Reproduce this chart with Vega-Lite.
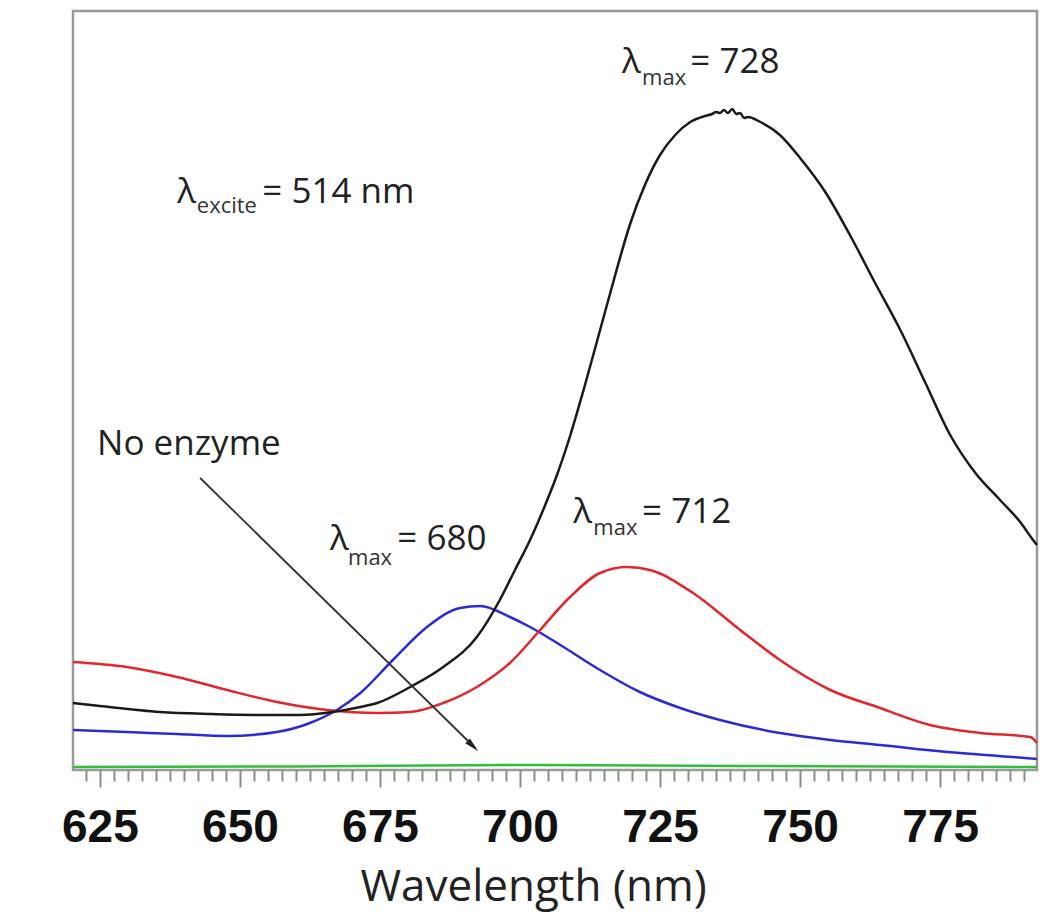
{
  "$schema": "https://vega.github.io/schema/vega-lite/v6.json",
  "width": 964,
  "height": 759,
  "autosize": {"type": "none"},
  "padding": {"left": 73, "top": 11, "right": 13, "bottom": 146},
  "background": "white",
  "config": {
    "font": "Open Sans",
    "view": {"stroke": "#9a9a9a", "strokeWidth": 2.5}
  },
  "resolve": {"axis": {"x": "independent"}},
  "layer": [
    {
      "data": {
        "values": [
          {"series": "green", "nm": 620.2, "em": 3},
          {"series": "green", "nm": 660, "em": 3.5},
          {"series": "green", "nm": 700, "em": 5},
          {"series": "green", "nm": 740, "em": 4},
          {"series": "green", "nm": 792.3, "em": 3},
          {"series": "blue", "nm": 620.2, "em": 40},
          {"series": "blue", "nm": 629.8, "em": 38},
          {"series": "blue", "nm": 638.8, "em": 36},
          {"series": "blue", "nm": 647.7, "em": 34},
          {"series": "blue", "nm": 656.6, "em": 38},
          {"series": "blue", "nm": 662.5, "em": 47},
          {"series": "blue", "nm": 667.3, "em": 60},
          {"series": "blue", "nm": 671.5, "em": 77},
          {"series": "blue", "nm": 677.3, "em": 110},
          {"series": "blue", "nm": 683.4, "em": 143},
          {"series": "blue", "nm": 689.3, "em": 162},
          {"series": "blue", "nm": 692.9, "em": 164},
          {"series": "blue", "nm": 698.2, "em": 153},
          {"series": "blue", "nm": 701.8, "em": 143},
          {"series": "blue", "nm": 707.2, "em": 125},
          {"series": "blue", "nm": 714.3, "em": 100},
          {"series": "blue", "nm": 721.4, "em": 78},
          {"series": "blue", "nm": 728.6, "em": 62},
          {"series": "blue", "nm": 735.7, "em": 50},
          {"series": "blue", "nm": 746.4, "em": 37},
          {"series": "blue", "nm": 755.4, "em": 30},
          {"series": "blue", "nm": 764.3, "em": 25},
          {"series": "blue", "nm": 776.3, "em": 18},
          {"series": "blue", "nm": 788.0, "em": 13},
          {"series": "blue", "nm": 792.3, "em": 11},
          {"series": "red", "nm": 620.2, "em": 108},
          {"series": "red", "nm": 629.8, "em": 103},
          {"series": "red", "nm": 638.8, "em": 93},
          {"series": "red", "nm": 647.7, "em": 80},
          {"series": "red", "nm": 656.6, "em": 68},
          {"series": "red", "nm": 665.6, "em": 60},
          {"series": "red", "nm": 674.5, "em": 57},
          {"series": "red", "nm": 680.4, "em": 58},
          {"series": "red", "nm": 686.3, "em": 67},
          {"series": "red", "nm": 692.3, "em": 83},
          {"series": "red", "nm": 698.2, "em": 107},
          {"series": "red", "nm": 703.6, "em": 140},
          {"series": "red", "nm": 708.4, "em": 170},
          {"series": "red", "nm": 714.3, "em": 197},
          {"series": "red", "nm": 719.1, "em": 203},
          {"series": "red", "nm": 723.2, "em": 200},
          {"series": "red", "nm": 730.9, "em": 177},
          {"series": "red", "nm": 739.3, "em": 140},
          {"series": "red", "nm": 746.4, "em": 110},
          {"series": "red", "nm": 755.4, "em": 80},
          {"series": "red", "nm": 764.3, "em": 62},
          {"series": "red", "nm": 773.2, "em": 45},
          {"series": "red", "nm": 782.2, "em": 37},
          {"series": "red", "nm": 791.1, "em": 33},
          {"series": "red", "nm": 792.3, "em": 27},
          {"series": "black", "nm": 620.2, "em": 67},
          {"series": "black", "nm": 625.0, "em": 64},
          {"series": "black", "nm": 635.7, "em": 58},
          {"series": "black", "nm": 644.7, "em": 56},
          {"series": "black", "nm": 653.6, "em": 55},
          {"series": "black", "nm": 660.7, "em": 55},
          {"series": "black", "nm": 666.6, "em": 58},
          {"series": "black", "nm": 671.5, "em": 63},
          {"series": "black", "nm": 674.5, "em": 67},
          {"series": "black", "nm": 680.4, "em": 83},
          {"series": "black", "nm": 686.3, "em": 103},
          {"series": "black", "nm": 692.3, "em": 133},
          {"series": "black", "nm": 696.4, "em": 170},
          {"series": "black", "nm": 699.1, "em": 200},
          {"series": "black", "nm": 701.8, "em": 230},
          {"series": "black", "nm": 704.5, "em": 265},
          {"series": "black", "nm": 706.6, "em": 295},
          {"series": "black", "nm": 709.0, "em": 335},
          {"series": "black", "nm": 711.6, "em": 385},
          {"series": "black", "nm": 714.3, "em": 440},
          {"series": "black", "nm": 717.0, "em": 495},
          {"series": "black", "nm": 719.6, "em": 545},
          {"series": "black", "nm": 722.3, "em": 585},
          {"series": "black", "nm": 725.0, "em": 615},
          {"series": "black", "nm": 727.7, "em": 635},
          {"series": "black", "nm": 730.4, "em": 648},
          {"series": "black", "nm": 733.0, "em": 654},
          {"series": "black", "nm": 734.3, "em": 656},
          {"series": "black", "nm": 735.0, "em": 658},
          {"series": "black", "nm": 735.7, "em": 657},
          {"series": "black", "nm": 736.4, "em": 660},
          {"series": "black", "nm": 737.1, "em": 657},
          {"series": "black", "nm": 737.9, "em": 661},
          {"series": "black", "nm": 738.6, "em": 656},
          {"series": "black", "nm": 739.3, "em": 657},
          {"series": "black", "nm": 740.0, "em": 652},
          {"series": "black", "nm": 740.7, "em": 653},
          {"series": "black", "nm": 742.9, "em": 648},
          {"series": "black", "nm": 746.4, "em": 635},
          {"series": "black", "nm": 750.0, "em": 612},
          {"series": "black", "nm": 754.5, "em": 578},
          {"series": "black", "nm": 758.9, "em": 535},
          {"series": "black", "nm": 763.4, "em": 487},
          {"series": "black", "nm": 767.9, "em": 440},
          {"series": "black", "nm": 772.3, "em": 388},
          {"series": "black", "nm": 776.8, "em": 335},
          {"series": "black", "nm": 781.3, "em": 297},
          {"series": "black", "nm": 785.7, "em": 270},
          {"series": "black", "nm": 789.3, "em": 248},
          {"series": "black", "nm": 791.6, "em": 230},
          {"series": "black", "nm": 792.3, "em": 225}
        ]
      },
      "mark": {"type": "line", "strokeWidth": 2.5, "interpolate": "monotone"},
      "encoding": {
        "x": {
          "field": "nm",
          "type": "quantitative",
          "scale": {"domain": [620.2, 792.3], "nice": false, "zero": false},
          "axis": {
            "orient": "bottom",
            "values": [625, 650, 675, 700, 725, 750, 775],
            "tickSize": 17,
            "tickColor": "#8c8c8c",
            "tickWidth": 2,
            "labelFont": "Liberation Sans",
            "labelFontWeight": "bold",
            "labelFontSize": 46,
            "labelColor": "#111111",
            "labelPadding": 18,
            "labelOverlap": false,
            "labelBound": false,
            "labelFlush": false,
            "domain": false,
            "grid": false,
            "title": "Wavelength (nm)",
            "titleFont": "Open Sans",
            "titleFontSize": 44,
            "titleFontWeight": "normal",
            "titleColor": "#222222",
            "titleX": 460,
            "titleY": 130,
            "titleBaseline": "alphabetic",
            "titleAlign": "center"
          }
        },
        "y": {
          "field": "em",
          "type": "quantitative",
          "scale": {"domain": [0, 759], "nice": false, "zero": false},
          "axis": {
            "title": "Emission",
            "labels": false,
            "ticks": false,
            "domain": false,
            "grid": false,
            "titleFont": "Open Sans",
            "titleFontSize": 40,
            "titleFontWeight": "normal",
            "titleColor": "#222222",
            "titleX": -38,
            "titleY": 370,
            "titleAngle": 270,
            "titleBaseline": "alphabetic",
            "titleAlign": "center"
          }
        },
        "color": {
          "field": "series",
          "type": "nominal",
          "scale": {"domain": ["green", "blue", "red", "black"], "range": ["#2fbf3a", "#2b2bd6", "#e3262b", "#1a1a1a"]},
          "legend": null
        }
      }
    },
    {
      "data": {"values": [{"nm": 642.9, "em": 292, "nm2": 692.0, "em2": 22}]},
      "mark": {"type": "rule", "color": "#333333", "strokeWidth": 1.8},
      "encoding": {
        "x": {
          "field": "nm",
          "type": "quantitative",
          "axis": {
            "orient": "bottom",
            "values": [622.5, 627.5, 630, 632.5, 635, 637.5, 640, 642.5, 645, 647.5, 652.5, 655, 657.5, 660, 662.5, 665, 667.5, 670, 672.5, 677.5, 680, 682.5, 685, 687.5, 690, 692.5, 695, 697.5, 702.5, 705, 707.5, 710, 712.5, 715, 717.5, 720, 722.5, 727.5, 730, 732.5, 735, 737.5, 740, 742.5, 745, 747.5, 752.5, 755, 757.5, 760, 762.5, 765, 767.5, 770, 772.5, 777.5, 780, 782.5, 785, 787.5, 790],
            "tickSize": 11,
            "tickColor": "#8c8c8c",
            "tickWidth": 2,
            "labels": false,
            "domain": false,
            "grid": false,
            "title": null
          }
        },
        "y": {"field": "em", "type": "quantitative", "axis": null},
        "x2": {"field": "nm2"},
        "y2": {"field": "em2"}
      }
    },
    {
      "data": {"values": [{"nm": 691.6, "em": 24}]},
      "mark": {"type": "point", "shape": "M0,-1L0.45,1L-0.45,1Z", "filled": true, "color": "#222222", "opacity": 1, "size": 220, "angle": 134},
      "encoding": {
        "x": {"field": "nm", "type": "quantitative", "axis": null},
        "y": {"field": "em", "type": "quantitative", "axis": null}
      }
    },
    {
      "data": {
        "values": [
          {"nm": 718.2, "em": 697, "t": "λ"},
          {"nm": 730.4, "em": 697, "t": "= 728"},
          {"nm": 638.8, "em": 567, "t": "λ"},
          {"nm": 654.0, "em": 567, "t": "= 514 nm"},
          {"nm": 666.1, "em": 220, "t": "λ"},
          {"nm": 678.1, "em": 220, "t": "= 680"},
          {"nm": 709.5, "em": 247, "t": "λ"},
          {"nm": 721.8, "em": 247, "t": "= 712"},
          {"nm": 624.5, "em": 315, "t": "No enzyme"}
        ]
      },
      "mark": {"type": "text", "font": "Open Sans", "fontSize": 35, "align": "left", "baseline": "alphabetic", "color": "#222222"},
      "encoding": {
        "x": {"field": "nm", "type": "quantitative", "axis": null},
        "y": {"field": "em", "type": "quantitative", "axis": null},
        "text": {"field": "t"}
      }
    },
    {
      "data": {
        "values": [
          {"nm": 721.8, "em": 685, "t": "max"},
          {"nm": 642.3, "em": 557, "t": "excite"},
          {"nm": 669.3, "em": 205, "t": "max"},
          {"nm": 713.1, "em": 235, "t": "max"}
        ]
      },
      "mark": {"type": "text", "font": "Open Sans", "fontSize": 22, "align": "left", "baseline": "alphabetic", "color": "#333333"},
      "encoding": {
        "x": {"field": "nm", "type": "quantitative", "axis": null},
        "y": {"field": "em", "type": "quantitative", "axis": null},
        "text": {"field": "t"}
      }
    }
  ]
}
